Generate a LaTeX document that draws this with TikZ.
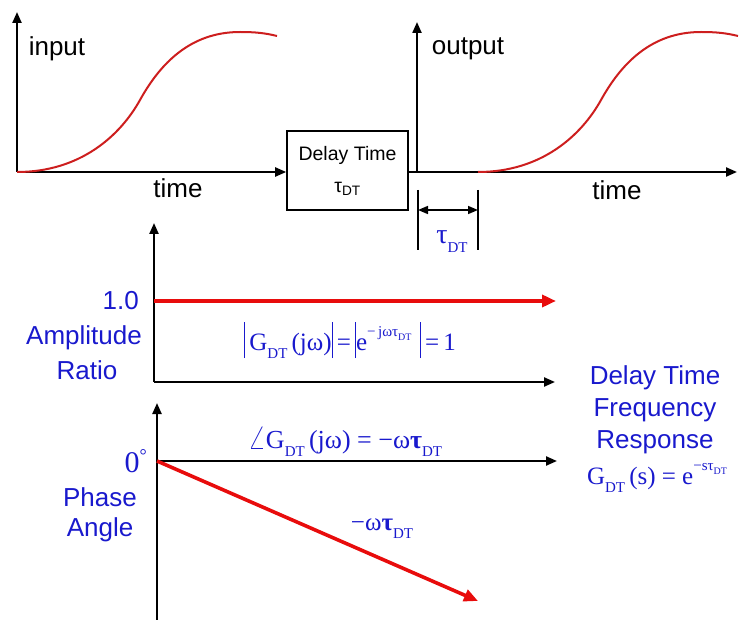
\documentclass[tikz,border=0pt]{standalone}
\usepackage{fontspec}
\setmainfont{Liberation Sans}
\newfontfamily\serif{Liberation Serif}
\usetikzlibrary{arrows.meta}
\definecolor{tblue}{RGB}{25,25,205}
\definecolor{tred}{RGB}{232,12,12}
\definecolor{cred}{RGB}{205,30,30}
\newcommand\vb{\rule[-0.32em]{1pt}{1.45em}}
% subscript (explicit sizes)
\newcommand\sbs[1]{\raisebox{-0.32em}{\fontsize{15}{15}\selectfont #1}}
\newcommand\ssbs[1]{\raisebox{-0.25em}{\fontsize{10}{10}\selectfont #1}}
\newcommand\sps[1]{\raisebox{0.55em}{\fontsize{15}{15}\selectfont #1}}
\begin{document}
\begin{tikzpicture}[x=1pt,y=-1pt,
  axis/.style={line width=2.2pt,-{Triangle[length=11pt,width=9pt]}},
  curve/.style={line width=2pt,cred},
  redarrow/.style={line width=3.6pt,tred,-{Triangle[length=14pt,width=12pt]}},
  lbl/.style={font=\fontsize{26}{30}\selectfont,inner sep=0pt},
  blbl/.style={lbl,text=tblue},
  fml/.style={font=\serif\fontsize{25}{30}\selectfont,text=tblue,inner sep=0pt},
  dtbox/.style={draw,line width=1.6pt,minimum width=121pt,minimum height=79pt,inner sep=0pt,
     align=center,font=\fontsize{19.5}{34}\selectfont}]
\useasboundingbox (0,0) rectangle (739,620);

% ---------- top: input ----------
\coordinate (iO) at (17,172);
\coordinate (iY) at (17,12);
\node[dtbox] (dt) at (347.5,170.5) {Delay Time\\[-2pt] τ\textsubscript{DT}};
\draw[axis] (iO) -- (iY);
\draw[axis] (iO) -- (iO -| dt.west);
\draw[curve] (17,172) .. controls (80,172) and (120,136) .. (140,100)
  .. controls (160,64) and (190,32) .. (240,32)
  .. controls (255,32) and (265,33) .. (277,36);
\node[lbl] (inp) at (57,49) {input};
\node[lbl] (t1) at (178,188) {time};

% ---------- top: output ----------
\coordinate (oO) at (417,172);
\coordinate (oY) at (417,22);
\coordinate (oX) at (737,172);
\draw[axis] (dt.east |- oO) -- (oX);
\draw[axis] (oO) -- (oY);
\begin{scope}[shift={(461,0)}]
\draw[curve] (17,172) .. controls (80,172) and (120,136) .. (140,100)
  .. controls (160,64) and (190,32) .. (240,32)
  .. controls (255,32) and (265,33) .. (277,36);
\end{scope}
\node[lbl] (outp) at (468,49) {output};
\node[lbl] (t2) at (617,190) {time};

% dimension
\coordinate (d1t) at (418,190); \coordinate (d1b) at (418,250);
\coordinate (d2t) at (478,190); \coordinate (d2b) at (478,250);
\coordinate (da) at (418,210); \coordinate (db) at (478,210);
\draw[line width=1.6pt] (d1t) -- (d1b) (d2t) -- (d2b);
\draw[line width=1.6pt,{Triangle[length=10pt,width=8pt]}-{Triangle[length=10pt,width=8pt]}] (da) -- (db);
\node[fml,font=\serif\fontsize{28}{30}\selectfont] (tau) at (452,242) {τ\sbs{DT}};

% ---------- amplitude ----------
\coordinate (aO) at (154,382);
\coordinate (aY) at (154,223);
\coordinate (aX) at (555,382);
\coordinate (a1) at (154,301);
\coordinate (a1e) at (556,301);
\draw[axis] (aO) -- (aY);
\draw[axis] (aO) -- (aX);
\draw[redarrow] (a1) -- (a1e);
\node[blbl,anchor=east] (one) at (139,301) {1.0};
\node[blbl] (amp) at (84,338) {Amplitude};
\node[blbl] (rat) at (87,370) {Ratio};
\node[fml] (af) at (350,340) {\vb\,G\sbs{DT}\,(jω)\vb\,=\,\vb e\sps{−\,jωτ\ssbs{DT}}\,\,\vb\,=\,1};

% ---------- phase ----------
\coordinate (pB) at (157,620);
\coordinate (pY) at (157,403);
\coordinate (pO) at (157,461);
\coordinate (pX) at (557,461);
\coordinate (pe) at (478,601);
\draw[axis] (pB) -- (pY);
\draw[axis] (pO) -- (pX);
\draw[redarrow] (pO) -- (pe);
\node[fml,anchor=east,font=\serif\fontsize{30}{34}\selectfont] (zero) at (147,461) {0\raisebox{0.35em}{\fontsize{18}{18}\selectfont°}};
\node[blbl] (ph) at (100,497) {Phase};
\node[blbl] (an) at (100,530) {Angle};
\node[fml,font=\serif\fontsize{26}{30}\selectfont] (pf) at (345,442) {\scalebox{1.35}{$\angle$}G\sbs{DT}\,(jω) = −ω\textbf{τ}\sbs{DT}};
\node[fml] (wt) at (382,529) {−ω\textbf{τ}\sbs{DT}};

% ---------- right text ----------
\node[blbl] (r1) at (655,378) {Delay Time};
\node[blbl] (r2) at (655,410) {Frequency};
\node[blbl] (r3) at (655,442) {Response};
\node[fml,font=\serif\fontsize{25}{28}\selectfont] (gf) at (657,478) {G\sbs{DT}\,(s) = e\sps{−sτ\ssbs{DT}}};
\end{tikzpicture}
\end{document}
